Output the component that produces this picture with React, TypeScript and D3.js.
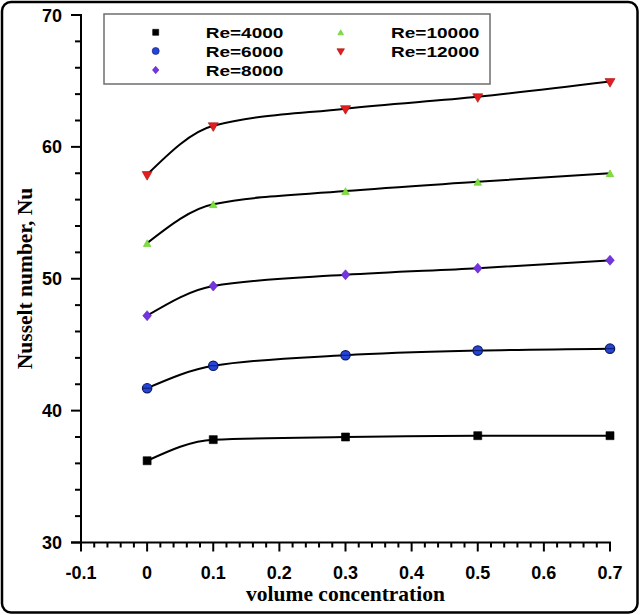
import * as d3 from 'd3';
import { useEffect, useRef } from 'react';

// volume concentration (x) shared by all series
const conc = [0, 0.1, 0.3, 0.5, 0.7];

const nu4000 = [36.2, 37.8, 38.0, 38.1, 38.1];
const nu6000 = [41.7, 43.4, 44.2, 44.55, 44.7];
const nu8000 = [47.2, 49.45, 50.3, 50.8, 51.4];
const nu10000 = [52.7, 55.65, 56.65, 57.35, 58.0];
const nu12000 = [57.9, 61.6, 62.9, 63.8, 64.95];

const reLabels = ['Re=4000', 'Re=6000', 'Re=8000', 'Re=10000', 'Re=12000'];
const xTicks = [-0.1, 0, 0.1, 0.2, 0.3, 0.4, 0.5, 0.6, 0.7];
const yTicks = [30, 40, 50, 60, 70];

const W = 640;
const H = 615;

type Marker = 'square' | 'circle' | 'diamond' | 'triUp' | 'triDown';

const series: { label: string; values: number[]; marker: Marker; fill: string; stroke: string }[] = [
  { label: reLabels[0], values: nu4000, marker: 'square', fill: '#000000', stroke: '#000000' },
  { label: reLabels[1], values: nu6000, marker: 'circle', fill: '#2444dc', stroke: '#0d1a60' },
  { label: reLabels[2], values: nu8000, marker: 'diamond', fill: '#7434e0', stroke: '#5a22b8' },
  { label: reLabels[3], values: nu10000, marker: 'triUp', fill: '#7ee03c', stroke: '#66c82c' },
  { label: reLabels[4], values: nu12000, marker: 'triDown', fill: '#e41e1e', stroke: '#a01010' },
];

// marker shapes, k scales them (1 = plot size)
function markerPath(m: Marker, k: number): string {
  const p = d3.path();
  if (m === 'square') {
    const s = 4 * k;
    p.rect(-s, -s, 2 * s, 2 * s);
  } else if (m === 'circle') {
    const r = 4.7 * k;
    p.moveTo(r, 0);
    p.arc(0, 0, r, 0, Math.PI * 2);
  } else if (m === 'diamond') {
    const w = 4.3 * k, hh = 5 * k;
    p.moveTo(0, -hh); p.lineTo(w, 0); p.lineTo(0, hh); p.lineTo(-w, 0); p.closePath();
  } else if (m === 'triUp') {
    const w = 3.8 * k, hh = 3.4 * k;
    p.moveTo(0, -hh); p.lineTo(w, hh); p.lineTo(-w, hh); p.closePath();
  } else {
    // point sits on the centroid, so the flat top is close to the curve
    const w = 5 * k, top = 3 * k, tip = 5.6 * k;
    p.moveTo(0, tip); p.lineTo(w, -top); p.lineTo(-w, -top); p.closePath();
  }
  return p.toString();
}

export default function App() {
  const svgRef = useRef<SVGSVGElement>(null);

  useEffect(() => {
    document.body.style.margin = '0';
    if (!svgRef.current) return;
    const svg = d3.select(svgRef.current);
    svg.selectAll('*').remove();

    const x = d3.scaleLinear().domain([-0.1, 0.7]).range([81, 610]);
    const y = d3.scaleLinear().domain([30, 70]).range([542.5, 15]);

    // outer rounded frame
    svg.append('rect')
      .attr('x', 2).attr('y', 2)
      .attr('width', W - 4.5).attr('height', H - 4.5)
      .attr('rx', 9)
      .attr('fill', '#fff')
      .attr('stroke', '#000')
      .attr('stroke-width', 2.5);

    const tickFont = '"Liberation Sans", Arial, sans-serif';
    const serif = '"Liberation Serif", "Times New Roman", serif';

    // x axis
    const xAx = svg.append('g').attr('stroke', '#000').attr('stroke-width', 2);
    xAx.append('line')
      .attr('x1', x(-0.1) - 10).attr('x2', x(0.7) + 1)
      .attr('y1', y(30)).attr('y2', y(30));
    d3.range(0, 41).forEach(i => {
      const v = -0.1 + i * 0.02;
      const major = i % 5 === 0;
      xAx.append('line')
        .attr('x1', x(v)).attr('x2', x(v))
        .attr('y1', y(30)).attr('y2', y(30) + (major ? 9 : 5));
    });
    svg.append('g').selectAll('text')
      .data(xTicks)
      .enter()
      .append('text')
      .attr('x', d => x(d))
      .attr('y', 578.5)
      .attr('text-anchor', 'middle')
      .style('font-family', tickFont)
      .style('font-weight', 'bold')
      .style('font-size', '18px')
      .text(d => String(d));

    // y axis
    const yAx = svg.append('g').attr('stroke', '#000').attr('stroke-width', 2);
    yAx.append('line')
      .attr('x1', x(-0.1)).attr('x2', x(-0.1))
      .attr('y1', y(30) + 1).attr('y2', y(70) - 1);
    d3.range(0, 21).forEach(i => {
      const v = 30 + i * 2;
      const major = i % 5 === 0;
      yAx.append('line')
        .attr('x1', x(-0.1) - (major ? 10 : 6)).attr('x2', x(-0.1))
        .attr('y1', y(v)).attr('y2', y(v));
    });
    svg.append('g').selectAll('text')
      .data(yTicks)
      .enter()
      .append('text')
      .attr('x', 62)
      .attr('y', d => y(d) + 6.6)
      .attr('text-anchor', 'end')
      .style('font-family', tickFont)
      .style('font-weight', 'bold')
      .style('font-size', '18px')
      .text(d => d);

    // axis titles
    svg.append('text')
      .attr('x', 345.5)
      .attr('y', 601)
      .attr('text-anchor', 'middle')
      .style('font-family', serif)
      .style('font-weight', 'bold')
      .style('font-size', '21.5px')
      .text('volume concentration');

    svg.append('text')
      .attr('transform', 'translate(32,278.5) rotate(-90)')
      .attr('text-anchor', 'middle')
      .style('font-family', serif)
      .style('font-weight', 'bold')
      .style('font-size', '21.5px')
      .text('Nusselt number, Nu');

    // curves
    const line = d3.line<number>()
      .x((d, i) => x(conc[i]))
      .y(d => y(d))
      .curve(d3.curveMonotoneX);

    series.forEach(s => {
      svg.append('path')
        .attr('d', line(s.values) || '')
        .attr('fill', 'none')
        .attr('stroke', '#000')
        .attr('stroke-width', 2);
    });

    series.forEach(s => {
      const g = svg.append('g');
      g.selectAll('path')
        .data(s.values)
        .enter()
        .append('path')
        .attr('transform', (d, i) => `translate(${x(conc[i])},${y(d)})`)
        .attr('d', markerPath(s.marker, 1))
        .attr('fill', s.fill)
        .attr('stroke', s.stroke)
        .attr('stroke-width', s.marker === 'circle' ? 1.2 : 0.6);
      if (s.marker === 'circle') {
        // horizontal bar through circle markers
        g.selectAll('line')
          .data(s.values)
          .enter()
          .append('line')
          .attr('x1', (d, i) => x(conc[i]) - 4.5)
          .attr('x2', (d, i) => x(conc[i]) + 4.5)
          .attr('y1', d => y(d)).attr('y2', d => y(d))
          .attr('stroke', '#0d1a60')
          .attr('stroke-width', 1);
      }
    });

    // legend
    const leg = svg.append('g');
    leg.append('rect')
      .attr('x', 104).attr('y', 14)
      .attr('width', 386).attr('height', 70)
      .attr('fill', '#fff')
      .attr('stroke', '#6e6e6e')
      .attr('stroke-width', 1.5);

    const legPos = [
      { mx: 155.7, tx: 205.7, cy: 32.3, len: 77.7 },
      { mx: 155.7, tx: 205.7, cy: 51, len: 77.7 },
      { mx: 155.7, tx: 205.7, cy: 70, len: 77.7 },
      { mx: 340.7, tx: 391, cy: 32.3, len: 88.3 },
      { mx: 340.7, tx: 391, cy: 51, len: 88.3 },
    ];
    series.forEach((s, i) => {
      const p = legPos[i];
      leg.append('path')
        .attr('transform', `translate(${p.mx},${p.cy})`)
        .attr('d', markerPath(s.marker, 0.75))
        .attr('fill', s.fill)
        .attr('stroke', s.stroke)
        .attr('stroke-width', 0.6);
      leg.append('text')
        .attr('x', p.tx)
        .attr('y', p.cy + 5.5)
        .attr('textLength', p.len)
        .attr('lengthAdjust', 'spacingAndGlyphs')
        .style('font-family', tickFont)
        .style('font-weight', 'bold')
        .style('font-size', '15.5px')
        .text(s.label);
    });
  }, []);

  return (
    <svg
      ref={svgRef}
      width={W}
      height={H}
      style={{ display: 'block', background: '#fff' }}
    ></svg>
  );
}
